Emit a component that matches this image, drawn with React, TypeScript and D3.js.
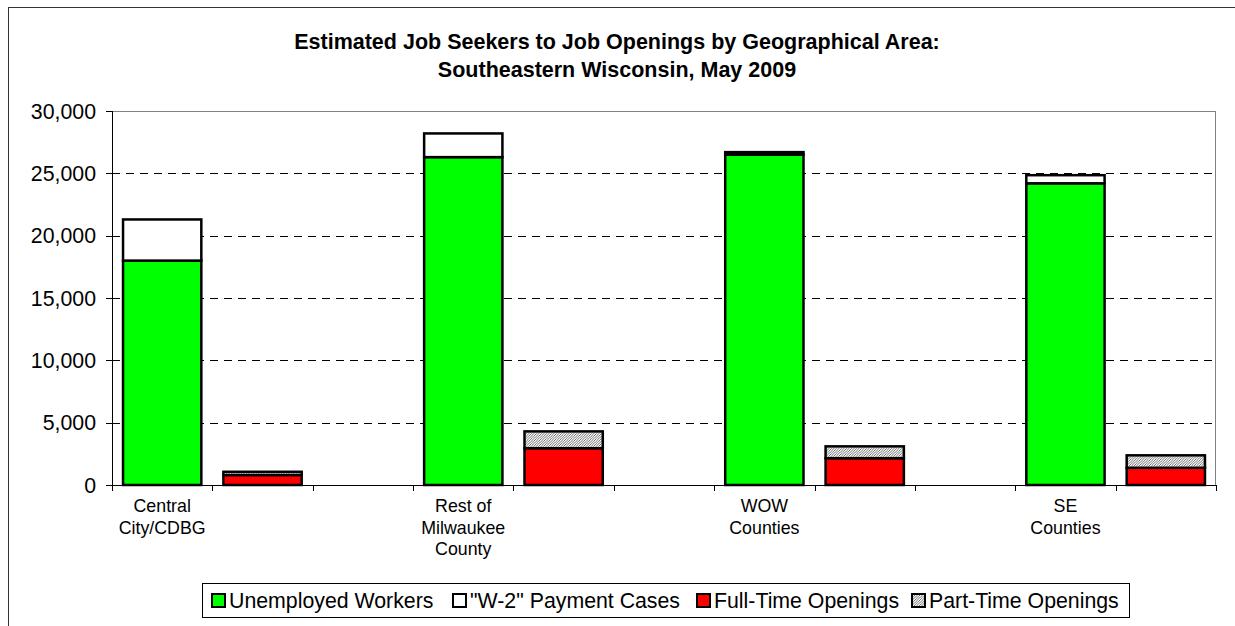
import React from "react";
import * as d3 from "d3";

const areas = ["Central City/CDBG", "Rest of Milwaukee County", "WOW Counties", "SE Counties"];
const areaLabels = [["Central", "City/CDBG"], ["Rest of", "Milwaukee", "County"], ["WOW", "Counties"], ["SE", "Counties"]];
const unemployed = [18000, 26300, 26500, 24200];
const w2Cases = [3300, 1900, 200, 650];
const fullTime = [800, 2950, 2150, 1380];
const partTime = [260, 1350, 950, 1000];
const yTicks = [0, 5000, 10000, 15000, 20000, 25000, 30000];
const legendItems = ["Unemployed Workers", "\"W-2\" Payment Cases", "Full-Time Openings", "Part-Time Openings"];

const W = 1235, H = 626;
const plotL = 112, plotR = 1216, plotT = 111, plotB = 485;

export default function App() {
  const slots = d3.range(11);
  const x = d3.scaleBand<number>().domain(slots).range([plotL, plotR]).paddingInner(0.22).paddingOuter(0.11);
  const step = x.step();
  const y = d3.scaleLinear().domain([0, 30000]).range([plotB, plotT]);
  const fmt = d3.format(",");
  const font = "Arial, 'Liberation Sans', sans-serif";
  const bw = x.bandwidth();

  const bars: any[] = [];
  areas.forEach((a, i) => {
    const gs = i * 3, rs = i * 3 + 1;
    bars.push({ x: x(gs), y0: 0, y1: unemployed[i], fill: "#00FF00", key: `u${i}` });
    bars.push({ x: x(gs), y0: unemployed[i], y1: unemployed[i] + w2Cases[i], fill: "#FFFFFF", key: `w${i}` });
    bars.push({ x: x(rs), y0: 0, y1: fullTime[i], fill: "#FF0000", key: `f${i}` });
    bars.push({ x: x(rs), y0: fullTime[i], y1: fullTime[i] + partTime[i], fill: "url(#hatch)", key: `p${i}` });
  });

  const legendFills = ["#00FF00", "#FFFFFF", "#FF0000", "url(#hatch)"];
  const legendX = [212, 453, 697, 912];

  return (
    <svg width={W} height={H} style={{ position: "absolute", left: 0, top: 0, background: "#fff" }} fontFamily={font}>
      <defs>
        <pattern id="hatch" patternUnits="userSpaceOnUse" width="2.5" height="2.5">
          <rect width="2.5" height="2.5" fill="#fff" />
          <path d="M-1,1 L1,-1 M0,2.5 L2.5,0 M1.5,3.5 L3.5,1.5" stroke="#333" strokeWidth="0.7" />
        </pattern>
      </defs>
      <rect x={8.5} y={7.5} width={W + 20} height={H + 20} fill="#fff" stroke="#333" strokeWidth={1} />
      <text x={617} y={49} textAnchor="middle" fontSize={21.5} fontWeight="bold">Estimated Job Seekers to Job Openings by Geographical Area:</text>
      <text x={617} y={77} textAnchor="middle" fontSize={21.5} fontWeight="bold">Southeastern Wisconsin, May 2009</text>

      {/* plot area border */}
      <line x1={plotL} x2={plotR} y1={plotT + 0.5} y2={plotT + 0.5} stroke="#808080" />
      <line x1={plotR - 0.5} x2={plotR - 0.5} y1={plotT} y2={plotB} stroke="#808080" />
      {/* gridlines */}
      {yTicks.filter(t => t > 0 && t < 30000).map(t => (
        <line key={t} x1={plotL} x2={plotR} y1={Math.round(y(t)) + 0.5} y2={Math.round(y(t)) + 0.5} stroke="#000" strokeDasharray="8,6" />
      ))}
      {/* y axis */}
      <line x1={plotL + 0.5} x2={plotL + 0.5} y1={plotT} y2={plotB} stroke="#000" />
      {yTicks.map(t => (
        <g key={t}>
          <line x1={plotL - 6} x2={plotL} y1={Math.round(y(t)) + 0.5} y2={Math.round(y(t)) + 0.5} stroke="#000" />
          <text x={plotL - 16} y={y(t) + 7.5} textAnchor="end" fontSize={21.3}>{fmt(t)}</text>
        </g>
      ))}
      {/* x axis */}
      <line x1={plotL} x2={plotR} y1={plotB + 0.5} y2={plotB + 0.5} stroke="#000" />
      {d3.range(12).map(i => (
        <line key={i} x1={Math.round(plotL + i * step) + 0.5} x2={Math.round(plotL + i * step) + 0.5} y1={plotB} y2={plotB + 6} stroke="#000" />
      ))}

      {bars.map(b => (
        <rect key={b.key} x={b.x} y={y(b.y1)} width={bw} height={y(b.y0) - y(b.y1)} fill={b.fill} stroke="#000" strokeWidth={2.5} />
      ))}

      {areaLabels.map((lines, i) => {
        const cx = (x(i * 3) as number) + bw / 2;
        return (
          <text key={i} textAnchor="middle" fontSize={17.8}>
            {lines.map((l, j) => (
              <tspan key={j} x={cx} y={512 + j * 21.5}>{l}</tspan>
            ))}
          </text>
        );
      })}

      {/* legend */}
      <rect x={202.5} y={583.5} width={927} height={34} fill="#fff" stroke="#000" strokeWidth={1} />
      {legendItems.map((l, i) => (
        <g key={l}>
          <rect x={legendX[i]} y={594} width={13} height={13} fill={legendFills[i]} stroke="#000" strokeWidth={2} />
          <text x={legendX[i] + 17} y={608} fontSize={21.3}>{l}</text>
        </g>
      ))}
    </svg>
  );
}
